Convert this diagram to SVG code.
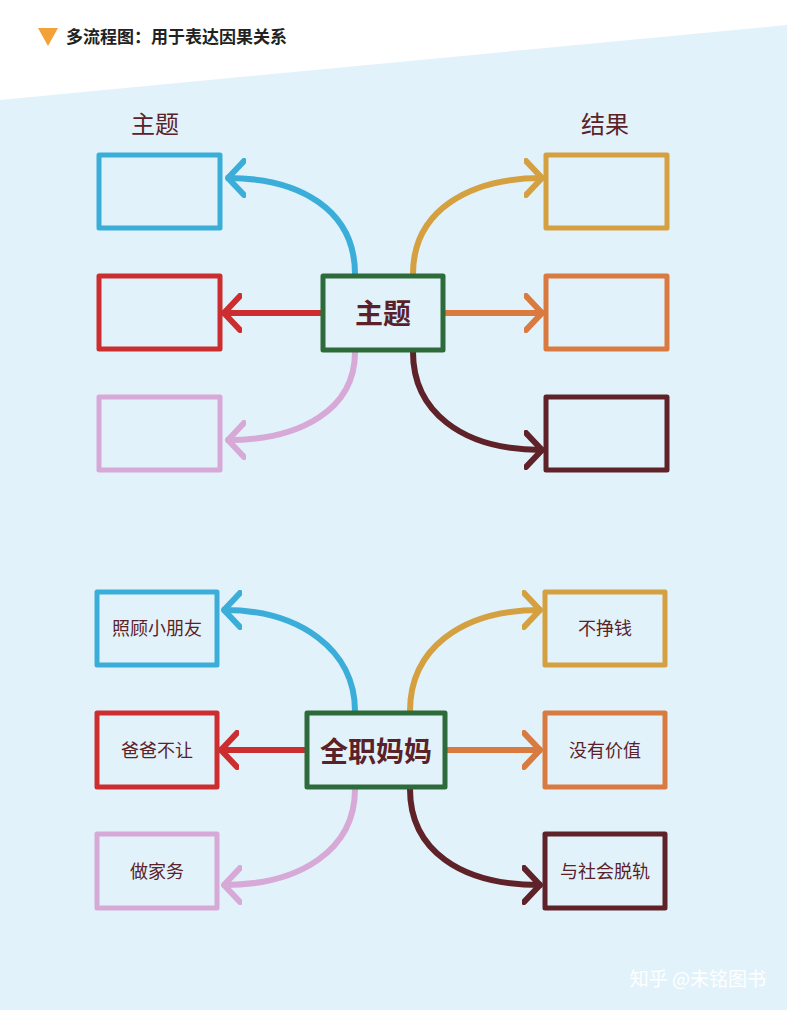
<svg xmlns="http://www.w3.org/2000/svg" width="787" height="1010" viewBox="0 0 787 1010">
<style>
.box{fill:none;stroke-width:5;stroke-linejoin:round}
.c{fill:none;stroke-width:6;stroke-linecap:round}
.m{fill:none;stroke-width:6;stroke-linecap:round;stroke-linejoin:round}
.t{font-family:"Noto Sans CJK SC",sans-serif;fill:#5a2228;text-anchor:middle}
</style>
<defs>
<marker id="mb" viewBox="0 0 20 40" refX="18" refY="20" markerWidth="20" markerHeight="40" markerUnits="userSpaceOnUse" orient="auto"><path class="m" d="M2,3 L18,20 L2,37" stroke="#3aaed8"/></marker>
<marker id="mr" viewBox="0 0 20 40" refX="18" refY="20" markerWidth="20" markerHeight="40" markerUnits="userSpaceOnUse" orient="auto"><path class="m" d="M2,3 L18,20 L2,37" stroke="#cc2e30"/></marker>
<marker id="mp" viewBox="0 0 20 40" refX="18" refY="20" markerWidth="20" markerHeight="40" markerUnits="userSpaceOnUse" orient="auto"><path class="m" d="M2,3 L18,20 L2,37" stroke="#d6a9d6"/></marker>
<marker id="mg" viewBox="0 0 20 40" refX="18" refY="20" markerWidth="20" markerHeight="40" markerUnits="userSpaceOnUse" orient="auto"><path class="m" d="M2,3 L18,20 L2,37" stroke="#d4a040"/></marker>
<marker id="mo" viewBox="0 0 20 40" refX="18" refY="20" markerWidth="20" markerHeight="40" markerUnits="userSpaceOnUse" orient="auto"><path class="m" d="M2,3 L18,20 L2,37" stroke="#d97a40"/></marker>
<marker id="mm" viewBox="0 0 20 40" refX="18" refY="20" markerWidth="20" markerHeight="40" markerUnits="userSpaceOnUse" orient="auto"><path class="m" d="M2,3 L18,20 L2,37" stroke="#5e2228"/></marker>
</defs>
<rect width="787" height="1010" fill="#ffffff"/>
<path d="M0,100 L787,25 L787,1010 L0,1010 Z" fill="#e2f2fa"/>
<polygon points="38,28 58,28 48,46" fill="#f3a23a"/>
<text x="66" y="43" font-family="Noto Sans CJK SC,sans-serif" font-size="17" font-weight="bold" fill="#222">多流程图：用于表达因果关系</text>
<text class="t" x="155" y="133" font-size="24">主题</text>
<text class="t" x="605" y="133" font-size="24">结果</text>
<g id="connectors">
<path class="c" stroke="#3aaed8" d="M355,274 C355,210 300,178 228,178" marker-end="url(#mb)"/>
<path class="c" stroke="#cc2e30" d="M322,313 L224,313" marker-end="url(#mr)"/>
<path class="c" stroke="#d6a9d6" d="M355,352 C355,410 300,440 228,440" marker-end="url(#mp)"/>
<path class="c" stroke="#d4a040" d="M413,274 C413,210 470,178 542,178" marker-end="url(#mg)"/>
<path class="c" stroke="#d97a40" d="M444,313 L542,313" marker-end="url(#mo)"/>
<path class="c" stroke="#5e2228" d="M413,352 C413,410 460,450 542,450" marker-end="url(#mm)"/>
<path class="c" stroke="#3aaed8" d="M355,711 C355,650 300,610 224,610" marker-end="url(#mb)"/>
<path class="c" stroke="#cc2e30" d="M306,750 L221,750" marker-end="url(#mr)"/>
<path class="c" stroke="#d6a9d6" d="M355,789 C355,850 300,885 224,885" marker-end="url(#mp)"/>
<path class="c" stroke="#d4a040" d="M410,711 C410,650 460,610 540,610" marker-end="url(#mg)"/>
<path class="c" stroke="#d97a40" d="M446,750 L540,750" marker-end="url(#mo)"/>
<path class="c" stroke="#5e2228" d="M410,789 C410,850 460,885 540,885" marker-end="url(#mm)"/>
</g>
<g id="t1"><rect class="box" x="99" y="155" width="121" height="73" stroke="#3aaed8"/></g>
<g id="t2"><rect class="box" x="99" y="276" width="121" height="73" stroke="#cc2e30"/></g>
<g id="t3"><rect class="box" x="99" y="397" width="121" height="73" stroke="#d6a9d6"/></g>
<g id="tc"><rect class="box" x="323" y="276" width="120" height="74" stroke="#2e6b3a" fill="#fff"/><text class="t" x="383" y="324" font-size="28" font-weight="bold">主题</text></g>
<g id="r1"><rect class="box" x="546" y="155" width="121" height="73" stroke="#d4a040"/></g>
<g id="r2"><rect class="box" x="546" y="276" width="121" height="73" stroke="#d97a40"/></g>
<g id="r3"><rect class="box" x="546" y="397" width="121" height="73" stroke="#5e2228"/></g>
<g id="b1"><rect class="box" x="97" y="592" width="120" height="73" stroke="#3aaed8"/><text class="t" x="157" y="635" font-size="18">照顾小朋友</text></g>
<g id="b2"><rect class="box" x="97" y="713" width="120" height="74" stroke="#cc2e30"/><text class="t" x="157" y="757" font-size="18">爸爸不让</text></g>
<g id="b3"><rect class="box" x="97" y="834" width="120" height="74" stroke="#d6a9d6"/><text class="t" x="157" y="878" font-size="18">做家务</text></g>
<g id="bc"><rect class="box" x="307" y="713" width="138" height="74" stroke="#2e6b3a" fill="#fff"/><text class="t" x="376" y="762" font-size="28" font-weight="bold">全职妈妈</text></g>
<g id="d1"><rect class="box" x="545" y="592" width="120" height="73" stroke="#d4a040"/><text class="t" x="605" y="635" font-size="18">不挣钱</text></g>
<g id="d2"><rect class="box" x="545" y="713" width="120" height="74" stroke="#d97a40"/><text class="t" x="605" y="757" font-size="18">没有价值</text></g>
<g id="d3"><rect class="box" x="545" y="834" width="120" height="74" stroke="#5e2228"/><text class="t" x="605" y="878" font-size="18">与社会脱轨</text></g>
<text x="766" y="986" text-anchor="end" font-family="Noto Sans CJK SC,sans-serif" font-size="19" fill="#ffffff">知乎 @未铭图书</text>
</svg>
